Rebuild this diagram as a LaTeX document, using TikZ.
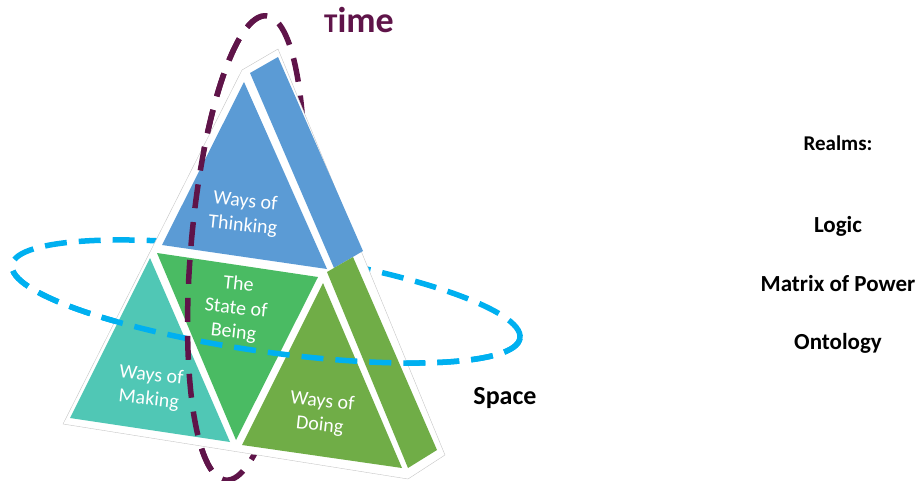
\documentclass[tikz,border=0pt]{standalone}
\usepackage{fontspec}
\setmainfont{Carlito}

\definecolor{timepurple}{RGB}{95,20,73}
\definecolor{spacecyan}{RGB}{0,176,240}
\definecolor{thinkblue}{RGB}{91,155,213}
\definecolor{beinggreen}{RGB}{74,187,99}
\definecolor{makingteal}{RGB}{80,199,181}
\definecolor{doingolive}{RGB}{112,173,71}

\begin{document}
\begin{tikzpicture}[x=1pt,y=-1pt,
  face/.style={text=white,align=center,rotate=-6,font=\fontsize{20}{24}\selectfont},
  realm/.style={font=\bfseries\fontsize{23}{28}\selectfont},
  spacering/.style={draw=spacecyan,line width=5.5pt,dash pattern=on 22pt off 12pt},
  timering/.style={draw=timepurple,line width=5.5pt,dash pattern=on 24pt off 14pt}]
  \useasboundingbox (0,0) rectangle (920,481);

  \draw[spacering,rotate around={-8.2:(266,301.5)}] (266,301.5) ellipse [x radius=256.6,y radius=50];
  \draw[timering,rotate around={-5:(246,248)}] (246,248) ellipse [x radius=55,y radius=233];

  \draw[gray!45,line width=0.4pt,fill=white] (242,70) -- (278,49) -- (445,455) -- (408,479) -- (63,424) -- cycle;
  \fill[thinkblue] (244,82) -- (162,245) -- (327,269) -- cycle;
  \fill[thinkblue] (250,73) -- (278,57) -- (363,251) -- (334,268) -- cycle;
  \fill[beinggreen] (157,253) -- (318,277) -- (236,440) -- cycle;
  \fill[makingteal] (150,258) -- (70,418) -- (230,442) -- cycle;
  \fill[doingolive] (323,283) -- (242,445) -- (402,468) -- cycle;
  \fill[doingolive] (327,272) -- (353,257) -- (437,450) -- (408,468) -- cycle;

  \node[face] (think) at (244,214) {Ways of\\Thinking};
  \node[face] (being) at (236,309) {The\\State of\\Being};
  \node[face] (making) at (150,388) {Ways of\\Making};
  \node[face] (doing) at (321,414) {Ways of\\Doing};

  \begin{scope}
    \clip (-20,260.4) -- (560,343.7) -- (560,500) -- (-20,500) -- cycle;
    \draw[spacering,rotate around={-8.2:(266,301.5)}] (266,301.5) ellipse [x radius=256.6,y radius=50];
  \end{scope}
  \begin{scope}
    \clip (265,-20) -- (223,500) -- (-10,500) -- (-10,-20) -- cycle;
    \draw[timering,rotate around={-5:(246,248)}] (246,248) ellipse [x radius=55,y radius=233];
  \end{scope}

  \node[anchor=base,text=timepurple,font=\bfseries\fontsize{36}{40}\selectfont] (timelabel) at (359,33) {{\fontsize{27}{30}\selectfont T}ime};
  \node[anchor=base,font=\bfseries\fontsize{26}{30}\selectfont] (spacelabel) at (505,404) {Space};

  \node[anchor=base,font=\bfseries\fontsize{21}{24}\selectfont] (realms) at (838,151) {Realms:};
  \node[anchor=base,realm] (logic) at (838,232) {Logic};
  \node[anchor=base,realm] (matrix) at (838,291) {Matrix of Power};
  \node[anchor=base,realm] (ontology) at (838,349) {Ontology};
\end{tikzpicture}
\end{document}
